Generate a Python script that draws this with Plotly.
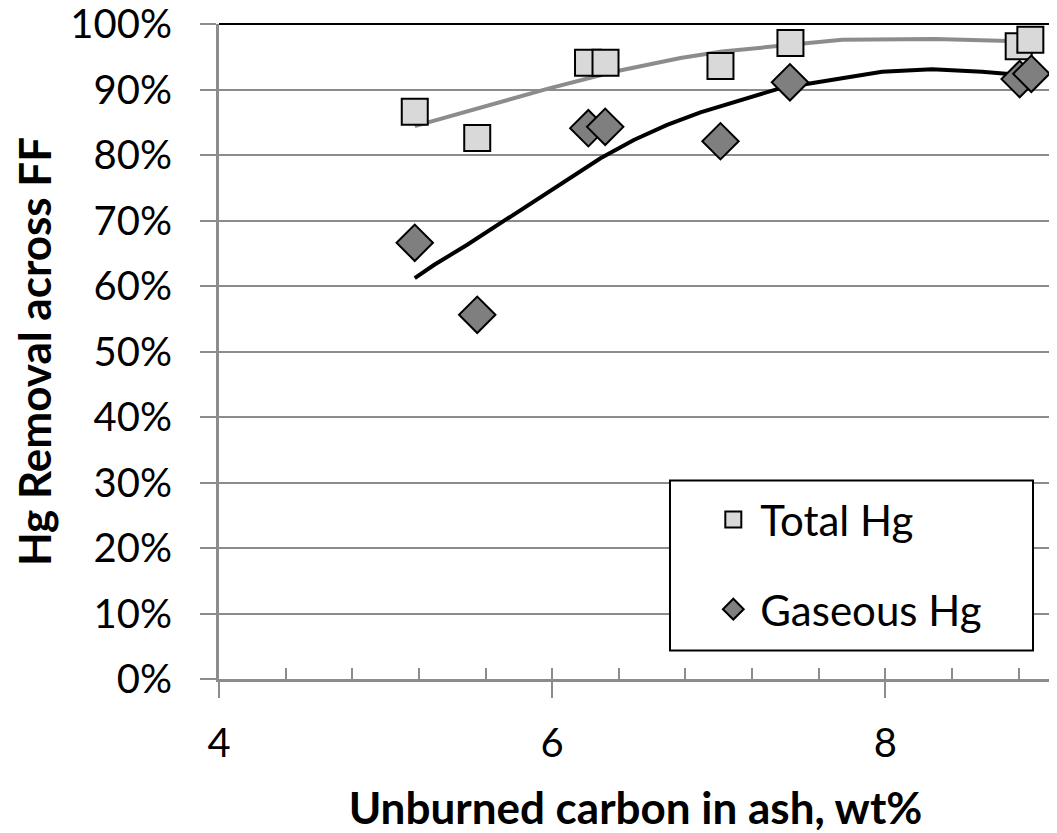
import plotly.graph_objects as go

# unburned carbon in ash (wt%) vs Hg removal across the fabric filter
carbon_total = [5.175, 5.55, 6.215, 6.32, 7.01, 7.43, 8.80, 8.87]
removal_total = [0.866, 0.826, 0.941, 0.941, 0.936, 0.971, 0.966, 0.976]

carbon_gas = [5.175, 5.55, 6.217, 6.318, 7.01, 7.427, 8.806, 8.876]
removal_gas = [0.666, 0.556, 0.841, 0.843, 0.821, 0.911, 0.916, 0.924]

# trendlines
trend_total_x = [5.175, 5.57, 5.97, 6.37, 6.77, 7.02, 7.44, 7.74, 8.3, 8.87]
trend_total_y = [0.844, 0.873, 0.901, 0.927, 0.948, 0.958, 0.969, 0.976, 0.977, 0.973]

trend_gas_x = [5.175, 5.29, 5.49, 5.69, 5.89, 6.09, 6.29, 6.49, 6.69, 6.89, 7.37, 7.98, 8.28, 8.58, 8.87]
trend_gas_y = [0.612, 0.632, 0.663, 0.696, 0.729, 0.762, 0.795, 0.823, 0.846, 0.865, 0.902, 0.927, 0.931, 0.927, 0.921]

y_ticks = [0.0, 0.1, 0.2, 0.3, 0.4, 0.5, 0.6, 0.7, 0.8, 0.9, 1.0]

FONT = "Lato"
GRID = "#8c8c8c"

fig = go.Figure()

fig.add_trace(go.Scatter(x=trend_total_x, y=trend_total_y, mode="lines",
                         line=dict(color="#8c8c8c", width=4), showlegend=False, hoverinfo="skip"))
fig.add_trace(go.Scatter(x=trend_gas_x, y=trend_gas_y, mode="lines",
                         line=dict(color="black", width=4), showlegend=False, hoverinfo="skip"))

fig.add_trace(go.Scatter(
    x=carbon_total, y=removal_total, mode="markers", name="Total Hg", legendgroup="a",
    marker=dict(symbol="square", size=26, color="#d9d9d9", line=dict(color="black", width=2))))
fig.add_trace(go.Scatter(
    x=carbon_gas, y=removal_gas, mode="markers", name="Gaseous Hg", legendgroup="b",
    marker=dict(symbol="diamond", size=28, color="#7f7f7f", line=dict(color="black", width=2))))

# empty trace carrying the minor (inside) ticks on the overlay axis
fig.add_trace(go.Scatter(x=[], y=[], xaxis="x2", showlegend=False))

# the page body adds an 8px offset, so the figure is sized to the visible part
fig.update_layout(
    width=1049, height=825,
    margin=dict(l=211, r=5, t=16, b=154),
    paper_bgcolor="white", plot_bgcolor="white",
    font=dict(family=FONT, size=40, color="black"),
    xaxis=dict(
        range=[4, 9], tick0=4, dtick=2, ticks="outside", ticklen=16, tickwidth=2,
        tickcolor=GRID, showline=True, linecolor=GRID, linewidth=3, showgrid=False,
        zeroline=False, ticklabelstandoff=11, automargin=False,
        title=dict(text="<b>Unburned carbon in ash, wt%</b>", font=dict(size=44), standoff=32),
    ),
    xaxis2=dict(
        overlaying="x", matches="x", anchor="y", side="bottom", tick0=4, dtick=0.4,
        ticks="inside", ticklen=11, tickwidth=2, tickcolor=GRID, automargin=False,
        showticklabels=False, showgrid=False, showline=False, zeroline=False,
    ),
    yaxis=dict(
        range=[0, 1], tickvals=y_ticks, tickformat=".0%", ticks="outside", ticklen=16,
        tickwidth=2, tickcolor=GRID, showline=True, linecolor=GRID, linewidth=3,
        showgrid=True, gridcolor=GRID, gridwidth=2, zeroline=False, ticklabelstandoff=20,
        automargin=False, ticklabeloverflow="allow",
        title=dict(text="<b>Hg Removal across FF</b>", font=dict(size=44), standoff=38),
    ),
    legend=dict(
        x=0.585, y=0.295, xanchor="left", yanchor="top", bgcolor="rgba(0,0,0,0)",
        borderwidth=0, tracegroupgap=32, traceorder="grouped", itemwidth=44,
        font=dict(size=42),
    ),
    shapes=[
        # black frame on top/right of the plot area, and the legend box
        dict(type="line", xref="x domain", yref="y domain", x0=0, x1=1, y0=1, y1=1,
             line=dict(color="black", width=2), layer="below"),
        dict(type="line", xref="x domain", yref="y domain", x0=1, x1=1, y0=0, y1=1,
             line=dict(color="black", width=2), layer="below"),
        dict(type="rect", xref="x domain", yref="y domain", x0=0.5414, x1=0.9772,
             y0=0.0435, y1=0.3031, line=dict(color="black", width=2),
             fillcolor="white", layer="above"),
    ],
)

fig.write_html("out.html")
